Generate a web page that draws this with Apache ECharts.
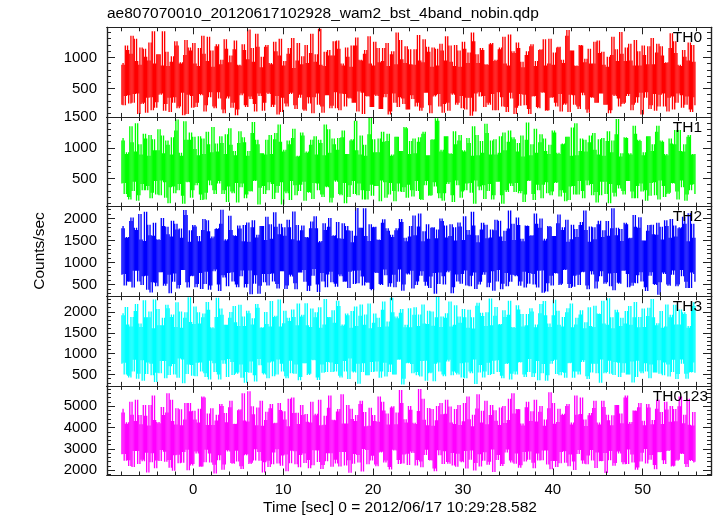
<!DOCTYPE html>
<html>
<head>
<meta charset="utf-8">
<script src="https://cdn.jsdelivr.net/npm/echarts@6/dist/echarts.min.js"></script>
<style>
html,body{margin:0;padding:0;background:#fff;}
#chart{width:717px;height:516px;}
</style>
</head>
<body>
<div id="chart"></div>
<script>
// Samples: A at t = T0 + i*DT, B at t = T0 + DT/2 + i*DT
// (seconds from 2012/06/17 10:29:28.582). Each sample-to-sample step of a
// sequence is drawn as one thin column spanning its vertical extent.
const T0 = -8, DT = 0.25;

const TH0 = [
240,880,380,1120,260,1350,410,940,90,1160,270,1010,350,1240,150,900,
280,1050,420,1420,250,860,120,1020,360,1190,210,920,70,1280,400,1110,
190,900,270,1150,390,1060,230,1330,440,850,180,1210,340,960,100,1140,
370,1030,270,1270,160,870,420,1120,200,1450,330,930,130,1170,380,1010,
270,1200,410,890,240,1100,80,1300,350,940,210,1150,430,830,170,1230,
400,1020,140,910,260,1380,360,1050,240,880,110,1090,390,1030,220,1260,
180,1140,420,870,210,1010,340,1190,270,1320,450,950,90,1120,370,900,
200,1250,380,920,170,1150,410,860,130,1100,270,1400,360,970,250,1180,
160,890,330,1130,270,950,190,1290,430,1090,100,1160,390,870,210,1110,
250,1340,140,930,400,1200,270,850,180,1140,350,1080,60,1260,420,910,
370,1120,200,880,240,1230,150,960,440,1160,210,900,120,1370,340,1070,
190,1150,410,840,230,1100,90,1210,380,940,180,1130,430,870,150,1300,
360,1080,210,1170,130,910,260,1440,400,1110,240,860,170,1190,390,980,
110,900,350,1250,270,1070,420,880,240,1010,150,1330,380,940,210,1060,
270,1160,410,950,240,1280,360,870,80,1040,440,1180,230,890,140,1220,
400,1030,210,920,350,1390,160,1070,420,860,190,1010,370,1240,120,930,
230
];
const TH0_B = [
910,230,1190,390,1060,270,1300,420,880,250,1140,110,950,360,1420,190,
1050,400,870,140,1090,350,930,270,1260,180,900,430,1040,90,1160,380,
1230,200,860,410,1350,130,940,360,1110,210,1180,440,890,160,1290,340,
920,190,1130,70,880,390,1210,230,970,370,1150,250,1380,420,840,140,
1170,430,910,200,1250,380,1030,120,870,260,1060,410,1310,230,950,350,
890,160,1200,360,1070,100,930,420,1460,210,860,390,1120,180,1030,440,
1270,150,900,410,1160,350,850,270,1190,130,960,430,1060,380,1340,200,
870,400,1150,170,940,360,1230,80,1050,420,890,200,1280,340,910,160,
1130,390,880,210,1360,140,920,430,1170,230,850,370,1140,410,1220,110,
950,270,1190,420,860,240,1110,380,1250,160,910,350,1400,130,1050,440,
1150,380,890,270,1210,410,940,150,1130,360,1330,200,870,430,1100,90,
1240,220,930,400,1040,170,1180,370,860,200,1120,440,1290,140,900,350,
880,270,1160,410,960,240,1350,120,1110,390,870,210,1200,430,920,160,
1140,360,900,270,1270,420,1090,240,850,100,1040,400,1130,340,1410,250,
940,380,1220,150,870,270,1100,430,1190,350,890,170,1310,410,1080,210,
1180,420,910,130,1150,370,1260,270,880,390,1120,240,950,160,1200,360
];

const TH1 = [
420,1120,250,930,160,1090,450,1400,230,890,310,1150,380,1210,270,960,
240,1300,470,910,190,1050,360,1170,260,1460,410,870,90,1130,440,1250,
310,980,430,1190,150,900,270,1060,390,1340,250,940,460,1080,310,1220,
370,1050,260,880,110,1270,420,1090,240,950,290,1420,470,1060,350,910,
250,1130,440,900,170,1240,380,1100,80,970,260,1060,460,1310,230,870,
400,1200,140,940,270,1130,430,890,310,1080,200,1380,360,920,190,1060,
450,1160,230,1280,100,900,390,1140,250,960,420,1200,160,870,300,1490,
220,930,380,1150,470,1100,190,1230,430,890,130,1180,290,950,360,1320,
400,1110,210,910,300,1170,150,1260,460,880,230,1140,370,1440,180,970,
260,1190,440,900,120,1060,390,1210,290,940,420,1080,270,1350,470,880,
310,920,170,1240,410,1120,230,890,450,1190,90,960,280,1280,380,1140,
430,1080,300,860,240,1410,470,1060,150,920,310,1220,400,950,260,1050,
290,1250,440,900,310,1070,130,1180,370,1330,240,880,460,1150,180,940,
390,1200,230,970,110,1140,450,870,250,1270,410,1120,210,1470,340,910,
240,1160,460,890,180,1230,380,1110,290,930,140,1190,430,1060,230,1360,
470,1100,200,880,270,1070,420,1290,160,950,360,1060,240,1210,400,900,
250
];
const TH1_B = [
1160,430,900,200,1350,300,940,140,1060,410,1230,310,870,180,1140,460,
960,230,1200,440,1120,100,890,370,1280,310,920,220,1430,450,1130,190,
1180,390,880,240,1150,160,1260,470,930,310,1070,420,1190,250,900,120,
1320,290,950,430,1080,360,1170,180,870,300,1240,460,1130,80,910,380,
890,310,1210,410,1140,270,1380,440,940,290,1120,150,1160,390,860,300,
1250,450,920,280,1050,170,1190,420,1130,240,880,370,1300,110,1150,470,
970,250,1170,430,900,200,1120,460,1440,230,890,310,1050,160,1220,400,
1140,380,930,130,1260,440,1110,240,870,300,1180,420,950,280,1340,190,
900,310,1150,460,1100,170,1230,390,880,220,1130,440,1480,260,940,140,
1190,410,910,230,1270,470,1120,190,960,310,1160,430,870,90,1210,370,
1110,390,1390,300,890,160,1140,450,920,230,1250,310,1100,420,1170,280,
940,260,1200,120,1130,460,880,250,1310,400,1090,180,1150,440,900,230,
1280,430,920,210,1060,270,1180,150,870,380,1400,240,950,300,1130,470,
1090,410,1240,280,890,230,1160,450,1110,100,930,270,1220,390,860,300,
1170,460,910,290,1360,180,1130,420,880,310,1190,220,950,440,1260,160,
1120,380,900,250,1150,430,1060,290,1290,470,940,140,1180,310,890,410
];

const TH2 = [
720,1780,480,1580,560,2020,810,1740,570,1520,690,2150,380,1620,550,1900,
460,1510,780,1830,520,1640,300,1950,750,1750,490,1560,830,2080,430,1730,
700,1820,510,1480,400,1990,790,1710,480,1590,840,1780,350,2200,660,1530,
760,1740,570,1600,440,1770,820,1850,510,1470,280,1960,710,1630,470,1830,
550,2040,740,1540,570,1810,410,1880,800,1610,480,1800,680,2160,390,1500,
770,1840,560,1570,470,1930,850,1780,330,1490,570,1740,730,2010,550,1620,
450,1550,690,1890,570,1730,790,1460,510,2240,820,1790,480,1600,540,1870,
370,1810,760,1510,490,1980,710,1720,530,1580,440,1780,840,1920,500,1480,
730,1830,410,1620,570,2110,800,1710,470,1540,680,1800,290,1750,770,1940,
500,1570,810,1870,440,1500,570,1820,740,2050,480,1630,700,1840,400,1460,
560,1900,780,1550,540,1750,360,1970,830,1590,520,1720,460,2180,720,1510,
690,1850,570,1480,430,1830,760,1620,500,1880,810,2000,310,1540,530,1810,
480,1600,750,2090,520,1800,840,1470,420,1860,700,1580,490,1920,790,1740,
390,1820,730,1530,570,1950,800,1730,550,1610,460,2230,760,1790,520,1490,
820,1870,440,1560,540,1810,710,2030,570,1500,350,1850,780,1640,490,1900,
550,1520,740,1830,470,1990,820,1590,500,1800,690,1880,420,2120,770,1560,
560
];
const TH2_B = [
1830,740,1560,570,1940,430,1790,810,2100,490,1490,700,1860,320,1610,540,
1530,780,2010,470,1810,720,1590,560,1880,410,1770,830,2190,550,1470,690,
1850,440,1600,760,1740,510,1960,380,1550,800,1760,500,1880,710,1500,460,
2060,780,1620,500,1840,690,1480,430,1910,820,1800,520,1570,290,1830,740,
1510,480,1870,750,2140,510,1640,800,1800,400,1970,720,1530,530,1850,770,
1730,830,1580,350,1780,700,2050,500,1460,760,1890,440,1810,790,1600,520,
1920,730,1540,560,1830,420,1720,810,1610,530,1790,680,2230,550,1490,400,
1800,770,1520,510,1900,840,1780,450,1630,720,1730,560,1990,360,1560,750,
1590,810,2070,490,1820,700,1480,560,1870,420,1790,760,1550,510,2000,690,
1840,780,1600,300,1800,730,1910,520,1510,820,1740,460,2150,770,1620,500,
1750,720,1860,440,1570,800,1730,570,1950,390,1490,760,1770,560,1880,710,
2020,470,1540,790,1840,520,1610,740,2110,430,1790,820,1500,340,1830,700,
1600,760,1890,490,1740,830,1970,510,1530,450,1760,720,1850,780,2180,480,
1470,800,1800,410,1870,690,1580,520,1940,750,1780,370,1620,540,1760,810,
1900,740,1550,470,2080,530,1790,780,1500,440,1720,700,1860,510,1630,270,
1810,770,1960,500,1560,720,1840,460,1780,830,2040,560,1480,420,1880,740
];

const TH3 = [
760,1920,500,1700,430,1880,850,2190,520,1640,350,1870,790,2010,480,2300,
540,1680,820,1860,410,2090,700,1940,500,2230,880,1620,290,1990,740,1760,
470,2130,780,1720,570,1960,440,2050,830,1610,560,2340,380,1930,760,1690,
870,2000,490,1750,550,2170,420,1660,560,1970,810,1850,330,2100,720,1630,
500,1710,790,2260,460,1910,860,1650,570,2030,410,1780,530,1880,740,2200,
440,1930,770,1680,520,2080,840,1990,370,1620,540,2310,800,1870,560,1740,
750,2140,430,1700,570,1920,880,2020,550,1660,280,2180,770,1940,480,1610,
560,1960,810,1640,570,2250,450,1770,740,1990,500,1850,860,2070,400,1690,
780,1630,530,2110,480,1940,820,1720,350,2030,550,1670,760,2360,570,1890,
460,1970,850,1650,570,2160,500,1740,430,1870,790,2050,530,1600,270,2220,
730,1900,570,1990,490,1680,830,2120,560,1710,410,1880,770,2270,520,1620,
500,2060,800,1650,440,1950,870,2010,530,1700,360,2190,750,1920,480,1640,
820,2290,510,1690,560,1880,420,2090,780,1630,570,1860,500,2040,840,1750,
390,1660,760,2150,530,1950,860,1720,560,2330,520,1610,800,1990,440,1860,
770,2020,500,1690,310,2240,830,1880,530,1640,570,2100,740,1870,550,1730,
520,1620,790,2180,450,1930,850,1700,510,2060,760,1950,400,1660,560,2140,
540
];
const TH3_B = [
1970,780,2120,470,1650,570,2020,400,1720,840,2280,510,1870,760,1610,320,
2070,530,1680,820,2170,490,1880,750,1640,420,2010,860,1860,510,2350,730,
1710,460,1990,790,1870,530,2240,380,1630,770,1880,500,2080,840,1690,440,
1860,800,2140,520,1660,740,1890,300,2030,540,1700,480,2190,870,1620,530,
2000,410,1650,810,1880,500,2300,760,1730,460,1860,830,2060,520,1680,360,
1890,770,2210,490,1640,850,1870,430,2110,740,1700,560,1880,790,2040,570,
2270,470,1670,820,1960,390,1620,570,2130,760,1910,560,1690,480,2200,800,
1740,570,1860,420,2050,780,1650,560,2340,500,1890,850,1980,260,1630,770,
2090,750,1930,560,1660,450,2180,830,1710,530,2010,340,1870,790,1640,500,
1860,810,2250,480,1690,540,1890,770,2070,410,1620,570,1870,860,2150,550,
1980,430,1660,780,2320,510,1910,840,1700,470,2040,750,1930,380,1640,570,
2160,790,1950,500,1680,560,2090,440,1630,820,1970,530,2260,350,1720,760,
1920,850,2030,480,1650,540,1990,770,2200,420,1700,570,1940,800,1610,460,
2110,550,1640,760,1960,300,2270,530,1690,830,1870,490,2050,780,1660,540,
1720,500,2140,810,1870,440,1630,570,2080,770,1900,410,2310,550,1680,840,
2020,480,1650,740,1870,560,2170,390,1700,860,1990,520,1620,550,2230,790
];

const TH0123 = [
2750,4700,2450,4250,2200,4600,2900,5300,2300,4150,2420,4550,1900,5050,2800,4350,
2460,4200,2950,4580,2400,5600,2120,4300,2700,4900,2330,4100,2850,5150,2000,4760,
2300,4380,2780,4880,2180,5400,2960,4650,2360,4120,1850,4600,2700,5000,2270,4250,
2880,5250,2310,4180,2410,4850,2060,4330,2750,5700,2350,4620,2980,4930,2450,4080,
2380,4740,2150,5100,2830,4220,2320,4820,2690,4370,1950,5350,2910,4680,2280,4160,
2720,4590,2340,4270,2100,5200,2940,4640,2390,4110,2250,4550,2800,5500,2170,4340,
2320,4860,2850,4190,2230,5050,1880,4400,2760,4580,2360,5250,2990,4060,2280,4920,
2680,4300,2190,5450,2870,4800,2460,4140,2040,4990,2930,4700,2300,5150,2740,4230,
2250,4830,2810,4170,2480,5800,2140,4360,2960,4910,2460,4080,1960,5000,2700,4620,
2890,5300,2310,4240,2220,4870,2770,4120,2380,5150,2080,4390,2920,4600,2340,5550,
2180,4780,2840,4150,2400,5050,1920,4320,2710,4940,2290,4210,2970,5350,2360,4660,
2790,4850,2240,4090,2410,5200,2880,4760,2100,4280,2460,5000,2930,4380,2270,5650,
2440,4180,2160,4880,2860,4640,2350,5100,2740,4230,2010,4600,2950,5400,2310,4070,
2690,4680,2460,5250,2830,4140,2430,4960,1870,4340,2900,4570,2340,5050,2780,4200,
2280,5500,2970,4260,2370,4780,2130,5150,2820,4110,2320,4930,2720,4350,2050,5300,
2850,4170,2300,4840,2940,5000,2210,4290,2490,5450,2760,4600,2150,4130,2430,4720,
2400
];
const TH0123_B = [
4880,2760,4180,2470,5200,2150,4310,2900,4580,2490,5050,2820,4090,2380,5500,2100,
4260,2440,4960,2870,4700,2480,5300,1980,4140,2730,4850,2350,4370,2960,5150,2230,
4780,2880,4230,2170,5450,2380,4120,2790,4900,2260,4330,2470,5100,2020,4680,2940,
4950,2340,4160,2910,4810,2190,5600,2700,4280,2300,4990,2460,4100,2850,5250,1900,
4350,2450,4900,2280,4200,2980,5150,2210,4760,2740,4060,2330,5400,2890,4690,2140,
5050,2780,4630,2480,4240,2240,4570,2930,5300,2060,4130,2420,4920,2800,4360,2490,
4750,2180,5550,2860,4190,2470,4880,2310,4300,2710,5100,1940,4720,2950,4080,2460,
4590,2270,4270,2830,5200,2360,4650,2150,4940,2960,4150,2480,5750,2320,4390,2770,
5000,2880,4220,2230,4770,2410,5350,2720,4110,2480,4860,2090,4340,2940,5150,2300,
4640,2390,4980,2810,4170,2170,5050,2420,4290,2900,5450,2490,4060,1990,4890,2750,
4240,2450,5250,2260,4590,2970,4810,2480,4120,2200,5000,2830,4350,2460,5600,2310,
4870,2120,4190,2860,4950,2490,4310,2350,5300,2780,4740,2470,4080,2920,4900,2050,
5150,2440,4260,2330,4590,2890,5000,2190,4140,2410,5500,2760,4630,2460,4370,2280,
4570,2950,4910,2110,4230,2420,5250,2810,4600,2470,4100,2210,5050,2880,4660,2380,
5400,2300,4180,2740,4790,2030,4950,2410,4320,2990,5100,2490,4150,2250,4880,2840,
4720,2470,5200,2900,4270,2180,4860,2450,4990,2780,4200,2290,5350,2480,4090,2360
];

const SERIES_NAMES = ['TH0', 'TH1', 'TH2', 'TH3', 'TH0123'];
const SERIES_A = [TH0, TH1, TH2, TH3, TH0123];
const SERIES_B = [TH0_B, TH1_B, TH2_B, TH3_B, TH0123_B];
const SERIES_COLORS = ['#ff0000', '#00ff00', '#0000ff', '#00ffff', '#ff00ff'];

// Axis ranges and ticks
const X_RANGE = [-9.6, 57.6];
const X_MAJOR = [0, 10, 20, 30, 40, 50];
const X_MINOR = [-8, -6, -4, -2, 2, 4, 6, 8, 12, 14, 16, 18, 22, 24, 26, 28, 32, 34, 36, 38, 42, 44, 46, 48, 52, 54, 56];

const Y_RANGES = [[42, 1484], [45, 1502], [234, 2270], [227, 2376], [1757, 5947]];
const Y_MAJOR = [
  [500, 1000],
  [500, 1000, 1500],
  [500, 1000, 1500, 2000],
  [500, 1000, 1500, 2000],
  [2000, 3000, 4000, 5000]
];
const Y_MINOR_STEP = [100, 100, 100, 100, 200];

const TITLE = 'ae807070010_20120617102928_wam2_bst_4band_nobin.qdp';
const X_TITLE = 'Time [sec] 0 = 2012/06/17 10:29:28.582';
const Y_TITLE = 'Counts/sec';

const FONT = '"Liberation Sans", Arial, Helvetica, sans-serif';
const AXIS_COLOR = '#222';

function minorTicks(range, step, major) {
  const out = [];
  const start = Math.ceil(range[0] / step) * step;
  for (let v = start; v <= range[1]; v += step) {
    if (major.indexOf(v) < 0) out.push(v);
  }
  return out;
}

// Thin columns [tStart, tEnd, low, high]: one per sample step of A and of B
function columns(a, b) {
  const out = [];
  const add = (seq, offset) => {
    for (let i = 0; i + 1 < seq.length; i++) {
      const t = T0 + offset + i * DT;
      out.push([t, t + DT / 2, Math.min(seq[i], seq[i + 1]), Math.max(seq[i], seq[i + 1])]);
    }
  };
  add(a, 0);
  add(b, DT / 2);
  return out;
}

const GRID_TOP = 27.3, GRID_H = 89.64, GRID_LEFT = 107, GRID_RIGHT = 6;

const grids = [], xAxes = [], yAxes = [], series = [];
for (let g = 0; g < 5; g++) {
  grids.push({ left: GRID_LEFT, right: GRID_RIGHT, top: GRID_TOP + g * GRID_H, height: GRID_H, containLabel: false });
  const lineStyle = { color: AXIS_COLOR, width: 1.2 };
  const mk = (pos, vals, len, labels) => ({
    type: 'value', gridIndex: g, position: pos, min: X_RANGE[0], max: X_RANGE[1],
    axisLine: { show: true, onZero: false, lineStyle },
    axisTick: { show: true, inside: true, length: len, customValues: vals, lineStyle: { color: AXIS_COLOR, width: 1 } },
    axisLabel: labels ? { show: true, customValues: X_MAJOR, margin: 7, color: '#000', fontSize: 15, fontFamily: FONT, formatter: v => String(v) } : { show: false },
    splitLine: { show: false }, z: 5
  });
  xAxes.push(mk('bottom', X_MAJOR, 7, g === 4));
  xAxes.push(mk('bottom', X_MINOR, 4, false));
  xAxes.push(mk('top', X_MAJOR, 7, false));
  xAxes.push(mk('top', X_MINOR, 4, false));

  const yr = Y_RANGES[g];
  const ymin = minorTicks(yr, Y_MINOR_STEP[g], Y_MAJOR[g]);
  const mky = (pos, vals, len, labels) => ({
    type: 'value', gridIndex: g, position: pos, min: yr[0], max: yr[1],
    axisLine: { show: true, onZero: false, lineStyle },
    axisTick: { show: true, inside: true, length: len, customValues: vals, lineStyle: { color: AXIS_COLOR, width: 1 } },
    axisLabel: labels ? { show: true, customValues: Y_MAJOR[g], margin: 10, color: '#000', fontSize: 15, fontFamily: FONT, formatter: v => String(v) } : { show: false },
    splitLine: { show: false }, z: 5
  });
  yAxes.push(mky('left', Y_MAJOR[g], 8, true));
  yAxes.push(mky('left', ymin, 4, false));
  yAxes.push(mky('right', Y_MAJOR[g], 8, false));
  yAxes.push(mky('right', ymin, 4, false));

  const color = SERIES_COLORS[g];
  series.push({
    name: SERIES_NAMES[g], type: 'custom', xAxisIndex: 4 * g, yAxisIndex: 4 * g,
    data: columns(SERIES_A[g], SERIES_B[g]),
    encode: { x: [0, 1], y: [2, 3] },
    clip: true, z: 1,
    renderItem: (params, api) => {
      const p0 = api.coord([api.value(0), api.value(3)]);
      const p1 = api.coord([api.value(1), api.value(2)]);
      return {
        type: 'rect',
        shape: { x: p0[0] - 0.1, y: p0[1], width: p1[0] - p0[0] + 0.2, height: p1[1] - p0[1] },
        style: { fill: color }
      };
    }
  });
}

const graphics = [
  { type: 'text', left: 107, top: 6, style: { text: TITLE, font: '15.5px ' + FONT, fill: '#000' } },
  { type: 'text', x: 400, y: 508, style: { text: X_TITLE, font: '15.5px ' + FONT, fill: '#000', align: 'center', verticalAlign: 'middle' } },
  { type: 'text', x: 40, y: 251, rotation: Math.PI / 2, style: { text: Y_TITLE, font: '15.5px ' + FONT, fill: '#000', align: 'center', verticalAlign: 'middle' } }
];
const LABEL_RIGHT = [702, 702, 702, 702, 708];
for (let g = 0; g < 5; g++) {
  graphics.push({ type: 'text', x: LABEL_RIGHT[g], y: GRID_TOP + g * GRID_H + 10.5, z: 100,
    style: { text: SERIES_NAMES[g], font: '15.5px ' + FONT, fill: '#000', align: 'right', verticalAlign: 'middle' } });
}

const chart = echarts.init(document.getElementById('chart'), null, { renderer: 'canvas' });
chart.setOption({
  animation: false,
  backgroundColor: '#fff',
  grid: grids,
  xAxis: xAxes,
  yAxis: yAxes,
  series: series,
  graphic: graphics
});
</script>
</body>
</html>
